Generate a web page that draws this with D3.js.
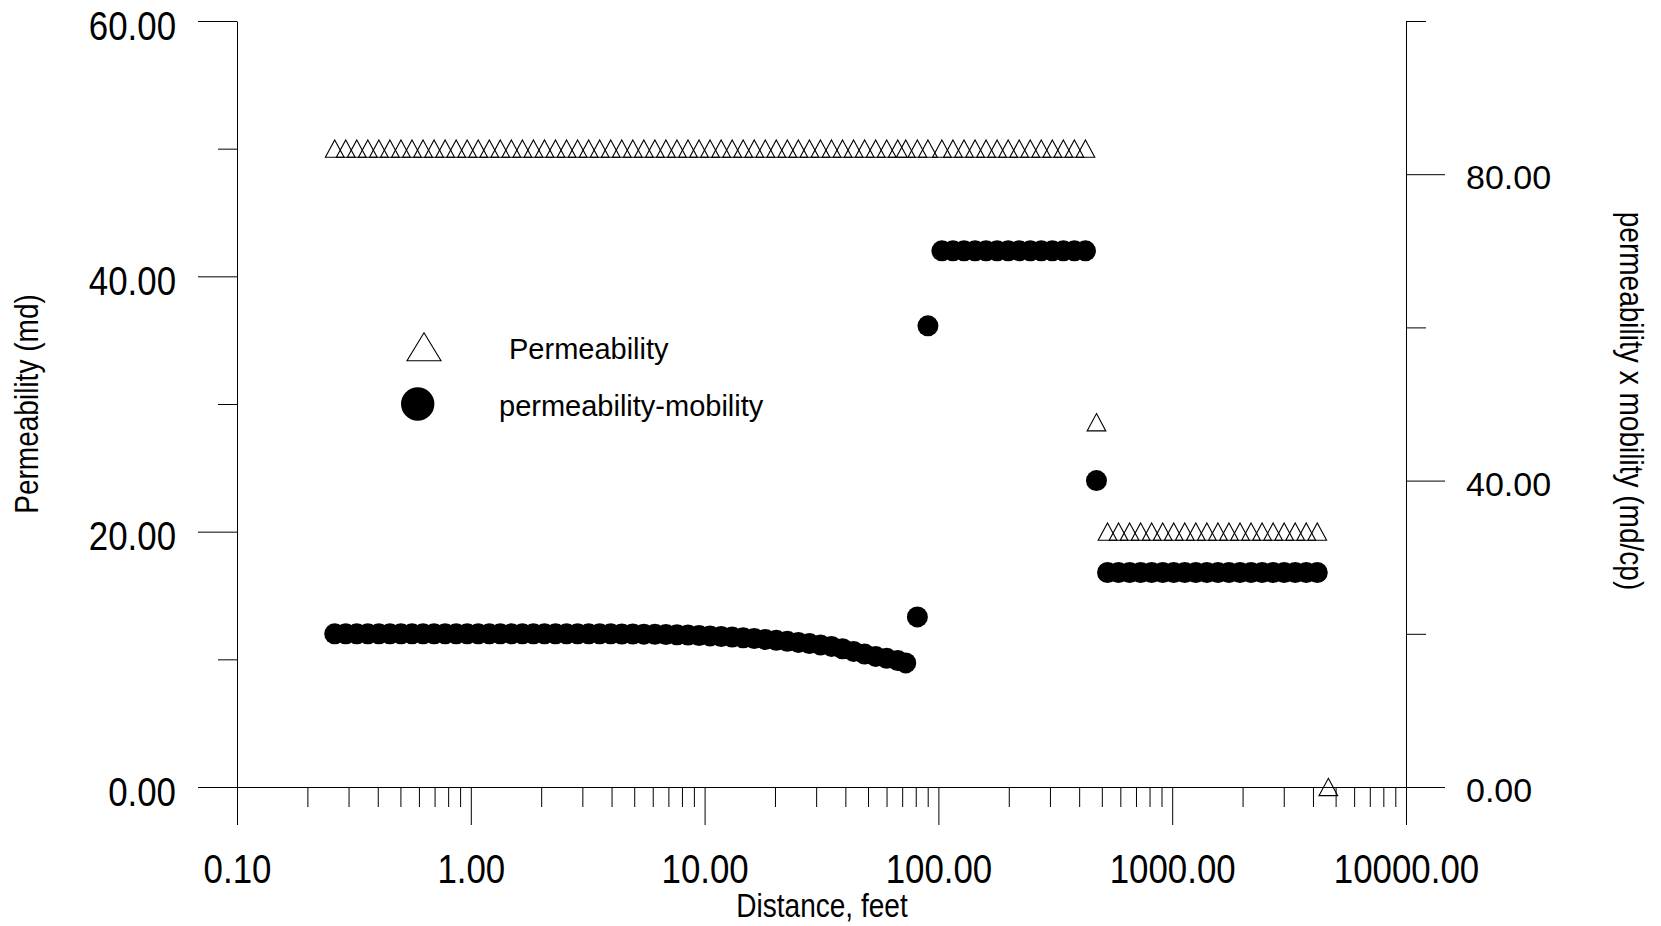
<!DOCTYPE html>
<html>
<head>
<meta charset="utf-8">
<script src="https://cdn.jsdelivr.net/npm/d3@7"></script>
<style>
  html, body { margin: 0; padding: 0; background: #fff; }
  svg { display: block; }
</style>
</head>
<body>
<svg id="chart" width="1661" height="926"></svg>
<script>
// Radial distance of each grid block from the well (feet)
const distanceFt = [
  0.2618, 0.2918, 0.3253, 0.3627, 0.4044, 0.4508, 0.5027, 0.5604, 0.6248, 0.6966,
  0.7766, 0.8658, 0.9650, 1.076, 1.200, 1.337, 1.491, 1.662, 1.853, 2.066,
  2.303, 2.568, 2.863, 3.192, 3.558, 3.967, 4.423, 4.931, 5.497, 6.129,
  6.833, 7.617, 8.493, 9.467, 10.55, 11.77, 13.12, 14.62, 16.31, 18.18,
  20.26, 22.59, 25.18, 28.08, 31.30, 34.90, 38.90, 43.37, 48.36, 53.91,
  60.10, 67.00, 72.50, 81.30, 90.20, 103.5, 115.4, 128.7, 143.5, 159.9,
  178.3, 198.8, 221.6, 247.1, 275.4, 307.1, 342.3, 381.6, 425.6, 474.4,
  528.9, 589.6, 657.4, 732.8, 817.0, 910.9, 1015, 1132, 1262, 1407,
  1569, 1749, 1950, 2174, 2424, 2702, 3012, 3358, 3744, 4174,
  4654
];

// Permeability of each block (md), left axis
const permeabilityMd = [
  50, 50, 50, 50, 50, 50, 50, 50, 50, 50,
  50, 50, 50, 50, 50, 50, 50, 50, 50, 50,
  50, 50, 50, 50, 50, 50, 50, 50, 50, 50,
  50, 50, 50, 50, 50, 50, 50, 50, 50, 50,
  50, 50, 50, 50, 50, 50, 50, 50, 50, 50,
  50, 50, 50, 50, 50, 50, 50, 50, 50, 50,
  50, 50, 50, 50, 50, 50, 50, 50, 50, 28.57,
  20, 20, 20, 20, 20, 20, 20, 20, 20, 20,
  20, 20, 20, 20, 20, 20, 20, 20, 20, 20,
  0
];

// Permeability x mobility (md/cp), right axis; one value per block up to 4174 ft
const permMobility = [
  20.00, 20.00, 20.00, 20.00, 20.00, 20.00, 20.00, 20.00, 20.00, 20.00,
  20.00, 20.00, 20.00, 20.00, 20.00, 20.00, 20.00, 20.00, 20.00, 20.00,
  20.00, 20.00, 20.00, 20.00, 20.00, 20.00, 19.98, 19.97, 19.95, 19.93,
  19.90, 19.87, 19.83, 19.78, 19.72, 19.65, 19.57, 19.48, 19.38, 19.27,
  19.15, 19.02, 18.88, 18.72, 18.55, 18.35, 18.05, 17.70, 17.35, 17.05,
  16.80, 16.50, 16.20, 22.20, 60.20, 70, 70, 70, 70, 70,
  70, 70, 70, 70, 70, 70, 70, 70, 70, 40.0,
  28, 28, 28, 28, 28, 28, 28, 28, 28, 28,
  28, 28, 28, 28, 28, 28, 28, 28, 28, 28
];

const xMajorTicks = [0.1, 1, 10, 100, 1000, 10000];
const leftMajorTicks = [0, 20, 40, 60];
const leftMinorTicks = [10, 30, 50];
const rightMajorTicks = [0, 40, 80];
const rightMinorTicks = [20, 60, 100];
const legendLabels = ["Permeability", "permeability-mobility"];
const xTitle = "Distance, feet";
const leftTitle = "Permeability (md)";
const rightTitle = "permeability x mobility (md/cp)";

const FONT = "'Liberation Sans', Arial, Helvetica, sans-serif";
const NARROW = 0.85;

const svg = d3.select("#chart");

const x = d3.scaleLog().domain([0.1, 10000]).range([237, 1406]);
const yL = d3.scaleLinear().domain([0, 60]).range([787, 21]);
const yR = d3.scaleLinear().domain([0, 100]).range([787, 21]);

const fmt = d3.format(".2f");

function styleAxis(g) {
  g.attr("font-family", FONT).attr("color", "#000");
  g.selectAll("line, path").attr("stroke", "#000").attr("stroke-width", 1);
}

// ---- X axis (log): minor ticks, then majors with labels
const xMinorTicks = x.ticks().filter(v => !xMajorTicks.some(m => Math.abs(m - v) / m < 1e-9));
svg.append("g")
  .attr("transform", `translate(0,${yL(0)})`)
  .call(d3.axisBottom(x).tickValues(xMinorTicks).tickSize(20).tickFormat(""))
  .call(g => g.select(".domain").remove())
  .call(styleAxis);

svg.append("g")
  .attr("transform", `translate(0,${yL(0)})`)
  .call(d3.axisBottom(x).tickValues(xMajorTicks).tickSize(38).tickSizeOuter(0).tickFormat(fmt))
  .call(styleAxis)
  .call(g => g.selectAll("text")
    .attr("y", 0).attr("dy", 0)
    .attr("transform", `translate(0,96) scale(${NARROW},1)`)
    .attr("font-size", 41).attr("fill", "#000"));

// ---- Left axis (permeability)
svg.append("g")
  .attr("transform", `translate(${x.range()[0]},0)`)
  .call(d3.axisLeft(yL).tickValues(leftMinorTicks).tickSize(19).tickFormat(""))
  .call(g => g.select(".domain").remove())
  .call(styleAxis);

svg.append("g")
  .attr("transform", `translate(${x.range()[0]},0)`)
  .call(d3.axisLeft(yL).tickValues(leftMajorTicks).tickSize(39).tickSizeOuter(0).tickFormat(fmt))
  .call(styleAxis)
  .call(g => g.selectAll("text")
    .attr("x", 0).attr("dy", 0)
    .attr("transform", `translate(-61,18) scale(${NARROW},1)`)
    .attr("font-size", 41).attr("fill", "#000"));

// ---- Right axis (permeability x mobility)
svg.append("g")
  .attr("transform", `translate(${x.range()[1]},0)`)
  .call(d3.axisRight(yR).tickValues(rightMinorTicks).tickSize(20).tickFormat(""))
  .call(g => g.select(".domain").remove())
  .call(styleAxis);

svg.append("g")
  .attr("transform", `translate(${x.range()[1]},0)`)
  .call(d3.axisRight(yR).tickValues(rightMajorTicks).tickSize(39).tickSizeOuter(0).tickPadding(21).tickFormat(fmt))
  .call(styleAxis)
  .call(g => g.selectAll("text")
    .attr("dy", 14.5)
    .attr("font-size", 34).attr("fill", "#000"));

// ---- Axis titles
svg.append("text")
  .attr("transform", `translate(822,917) scale(${NARROW},1)`)
  .attr("text-anchor", "middle")
  .attr("font-family", FONT).attr("font-size", 33)
  .text(xTitle);

svg.append("text")
  .attr("transform", `translate(38,404) rotate(-90) scale(${NARROW},1)`)
  .attr("text-anchor", "middle")
  .attr("font-family", FONT).attr("font-size", 33)
  .text(leftTitle);

svg.append("text")
  .attr("transform", `translate(1620,401) rotate(90) scale(${NARROW},1)`)
  .attr("text-anchor", "middle")
  .attr("font-family", FONT).attr("font-size", 33)
  .text(rightTitle);

// ---- Markers
const triSmall = "M0,-8.65L9.35,8.65L-9.35,8.65Z";
const triLarge = "M0,-14L17,14L-17,14Z";

svg.append("g")
  .selectAll("path")
  .data(permeabilityMd.map((v, i) => ({ d: distanceFt[i], v })))
  .join("path")
  .attr("d", triSmall)
  .attr("transform", p => `translate(${x(p.d)},${yL(p.v)})`)
  .attr("fill", "none")
  .attr("stroke", "#000")
  .attr("stroke-width", 1.1);

svg.append("g")
  .selectAll("circle")
  .data(permMobility.map((v, i) => ({ d: distanceFt[i], v })))
  .join("circle")
  .attr("cx", p => x(p.d))
  .attr("cy", p => yR(p.v))
  .attr("r", 10.5)
  .attr("fill", "#000");

// ---- Legend
const legend = svg.append("g").attr("font-family", FONT).attr("font-size", 29);
legend.append("path")
  .attr("d", triLarge)
  .attr("transform", "translate(424,346.7)")
  .attr("fill", "none").attr("stroke", "#000").attr("stroke-width", 1.1);
legend.append("text").attr("x", 509).attr("y", 359).text(legendLabels[0]);
legend.append("circle").attr("cx", 417.7).attr("cy", 404).attr("r", 16.7).attr("fill", "#000");
legend.append("text").attr("x", 499).attr("y", 416).text(legendLabels[1]);
</script>
</body>
</html>
